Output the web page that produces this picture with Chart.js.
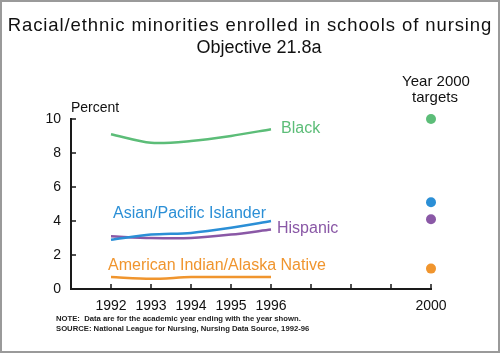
<!DOCTYPE html>
<html>
<head>
<meta charset="utf-8">
<script src="https://cdn.jsdelivr.net/npm/chart.js@4.4.1/dist/chart.umd.min.js"></script>
<style>
  html, body { margin: 0; padding: 0; background: #fff; }
  #frame {
    position: relative; width: 500px; height: 353px; box-sizing: border-box;
    border: 2px solid #9a9a9a; overflow: hidden;
    font-family: "Liberation Sans", Arial, Helvetica, sans-serif; color: #111;
  }
  #chart { position: absolute; left: -2px; top: -2px; }
  .txt { position: absolute; line-height: 1; white-space: nowrap; }
</style>
</head>
<body>
<div id="frame">
  <canvas id="chart" width="500" height="353"></canvas>
  <!-- positions below are offsets inside the 2px frame -->
  <div class="txt" style="left:-2px;width:500px;text-align:center;top:14.3px;font-size:18.5px;letter-spacing:0.9px">Racial/ethnic minorities enrolled in schools of nursing</div>
  <div class="txt" style="left:7px;width:500px;text-align:center;top:35.8px;font-size:18px">Objective 21.8a</div>
  <div class="txt" style="left:384px;width:100px;text-align:center;top:71.3px;font-size:15px">Year 2000</div>
  <div class="txt" style="left:383px;width:100px;text-align:center;top:87.3px;font-size:15px">targets</div>
  <div class="txt" style="left:69px;top:98.1px;font-size:14px">Percent</div>
  <div class="txt" style="left:279px;top:117.5px;font-size:16px;color:#5cbd78">Black</div>
  <div class="txt" style="left:111px;top:202.5px;font-size:16px;color:#2b8fd6">Asian/Pacific Islander</div>
  <div class="txt" style="left:275px;top:217.5px;font-size:16px;color:#8a58a6">Hispanic</div>
  <div class="txt" style="left:106px;top:254.5px;font-size:16px;color:#f0952e">American Indian/Alaska Native</div>
  <div class="txt" style="left:54px;top:312.5px;font-size:7.7px;font-weight:bold;color:#222">NOTE:&nbsp; Data are for the academic year ending with the year shown.</div>
  <div class="txt" style="left:54px;top:322.5px;font-size:7.7px;font-weight:bold;color:#222">SOURCE: National League for Nursing, Nursing Data Source, 1992-96</div>
</div>
<script>
// --- Data (percent of enrolled nursing students) ---
const years = [1992, 1993, 1994, 1995, 1996];
const black = [9.1, 8.6, 8.7, 9.0, 9.4];
const asianPacific = [2.9, 3.2, 3.3, 3.6, 4.0];
const hispanic = [3.1, 3.0, 3.0, 3.2, 3.5];
const amerIndian = [0.7, 0.6, 0.7, 0.7, 0.7];

// Year 2000 targets, same group order
const targetYear = 2000;
const targets = [10.0, 5.1, 4.1, 1.2];

const xTicks = [1992, 1993, 1994, 1995, 1996, 1997, 1998, 1999, 2000];
const xLabeled = [1992, 1993, 1994, 1995, 1996, 2000];
const yTicks = [0, 2, 4, 6, 8, 10];

const colors = ['#5cbd78', '#2b8fd6', '#8a58a6', '#f0952e'];
const AXIS = '#1a1a1a';

const series = [black, asianPacific, hispanic, amerIndian];

function lineSet(values, color) {
  return {
    type: 'line',
    data: years.map((y, i) => ({ x: y, y: values[i] })),
    borderColor: color,
    borderWidth: 2.5,
    pointRadius: 0,
    tension: 0.3,
    fill: false,
    clip: false,
  };
}

function targetSet(value, color) {
  return {
    type: 'scatter',
    data: [{ x: targetYear, y: value }],
    backgroundColor: color,
    borderWidth: 0,
    pointRadius: 5,
    showLine: false,
    clip: false,
  };
}

// inward tick marks on both axes (Chart.js only draws them outward)
const innerTicks = {
  id: 'innerTicks',
  afterDraw(chart) {
    const { ctx, chartArea, scales } = chart;
    ctx.save();
    ctx.strokeStyle = AXIS;
    ctx.lineWidth = 1.5;
    ctx.beginPath();
    for (const v of xTicks) {
      const px = Math.round(scales.x.getPixelForValue(v));
      ctx.moveTo(px, chartArea.bottom);
      ctx.lineTo(px, chartArea.bottom - 5);
    }
    for (const v of yTicks) {
      if (v === 0) continue;
      const py = Math.round(scales.y.getPixelForValue(v));
      ctx.moveTo(chartArea.left, py);
      ctx.lineTo(chartArea.left + 5, py);
    }
    ctx.stroke();
    ctx.restore();
  }
};

new Chart(document.getElementById('chart'), {
  data: {
    datasets: [
      ...series.map((s, i) => lineSet(s, colors[i])),
      ...targets.map((t, i) => targetSet(t, colors[i])),
    ],
  },
  options: {
    responsive: false,
    animation: false,
    layout: { padding: { left: 0, right: 69, top: 119, bottom: 0 } },
    plugins: {
      legend: { display: false },
      tooltip: { enabled: false },
    },
    scales: {
      x: {
        type: 'linear',
        min: 1991,
        max: 2000,
        afterBuildTicks: (s) => { s.ticks = xTicks.map(v => ({ value: v })); },
        afterFit: (s) => { s.height = 64; },
        ticks: {
          padding: 9,
          color: '#111',
          font: { family: 'Liberation Sans', size: 14 },
          maxRotation: 0,
          autoSkip: false,
          callback: (v) => xLabeled.includes(v) ? String(v) : '',
        },
        grid: { display: true, drawOnChartArea: false, drawTicks: false },
        border: { display: true, color: AXIS, width: 2 },
      },
      y: {
        min: 0,
        max: 10,
        afterBuildTicks: (s) => { s.ticks = yTicks.map(v => ({ value: v })); },
        afterFit: (s) => { s.width = 71; },
        ticks: {
          padding: 10,
          color: '#111',
          font: { family: 'Liberation Sans', size: 14 },
        },
        grid: { display: true, drawOnChartArea: false, drawTicks: false },
        border: { display: true, color: AXIS, width: 2 },
      },
    },
  },
  plugins: [innerTicks],
});
</script>
</body>
</html>
